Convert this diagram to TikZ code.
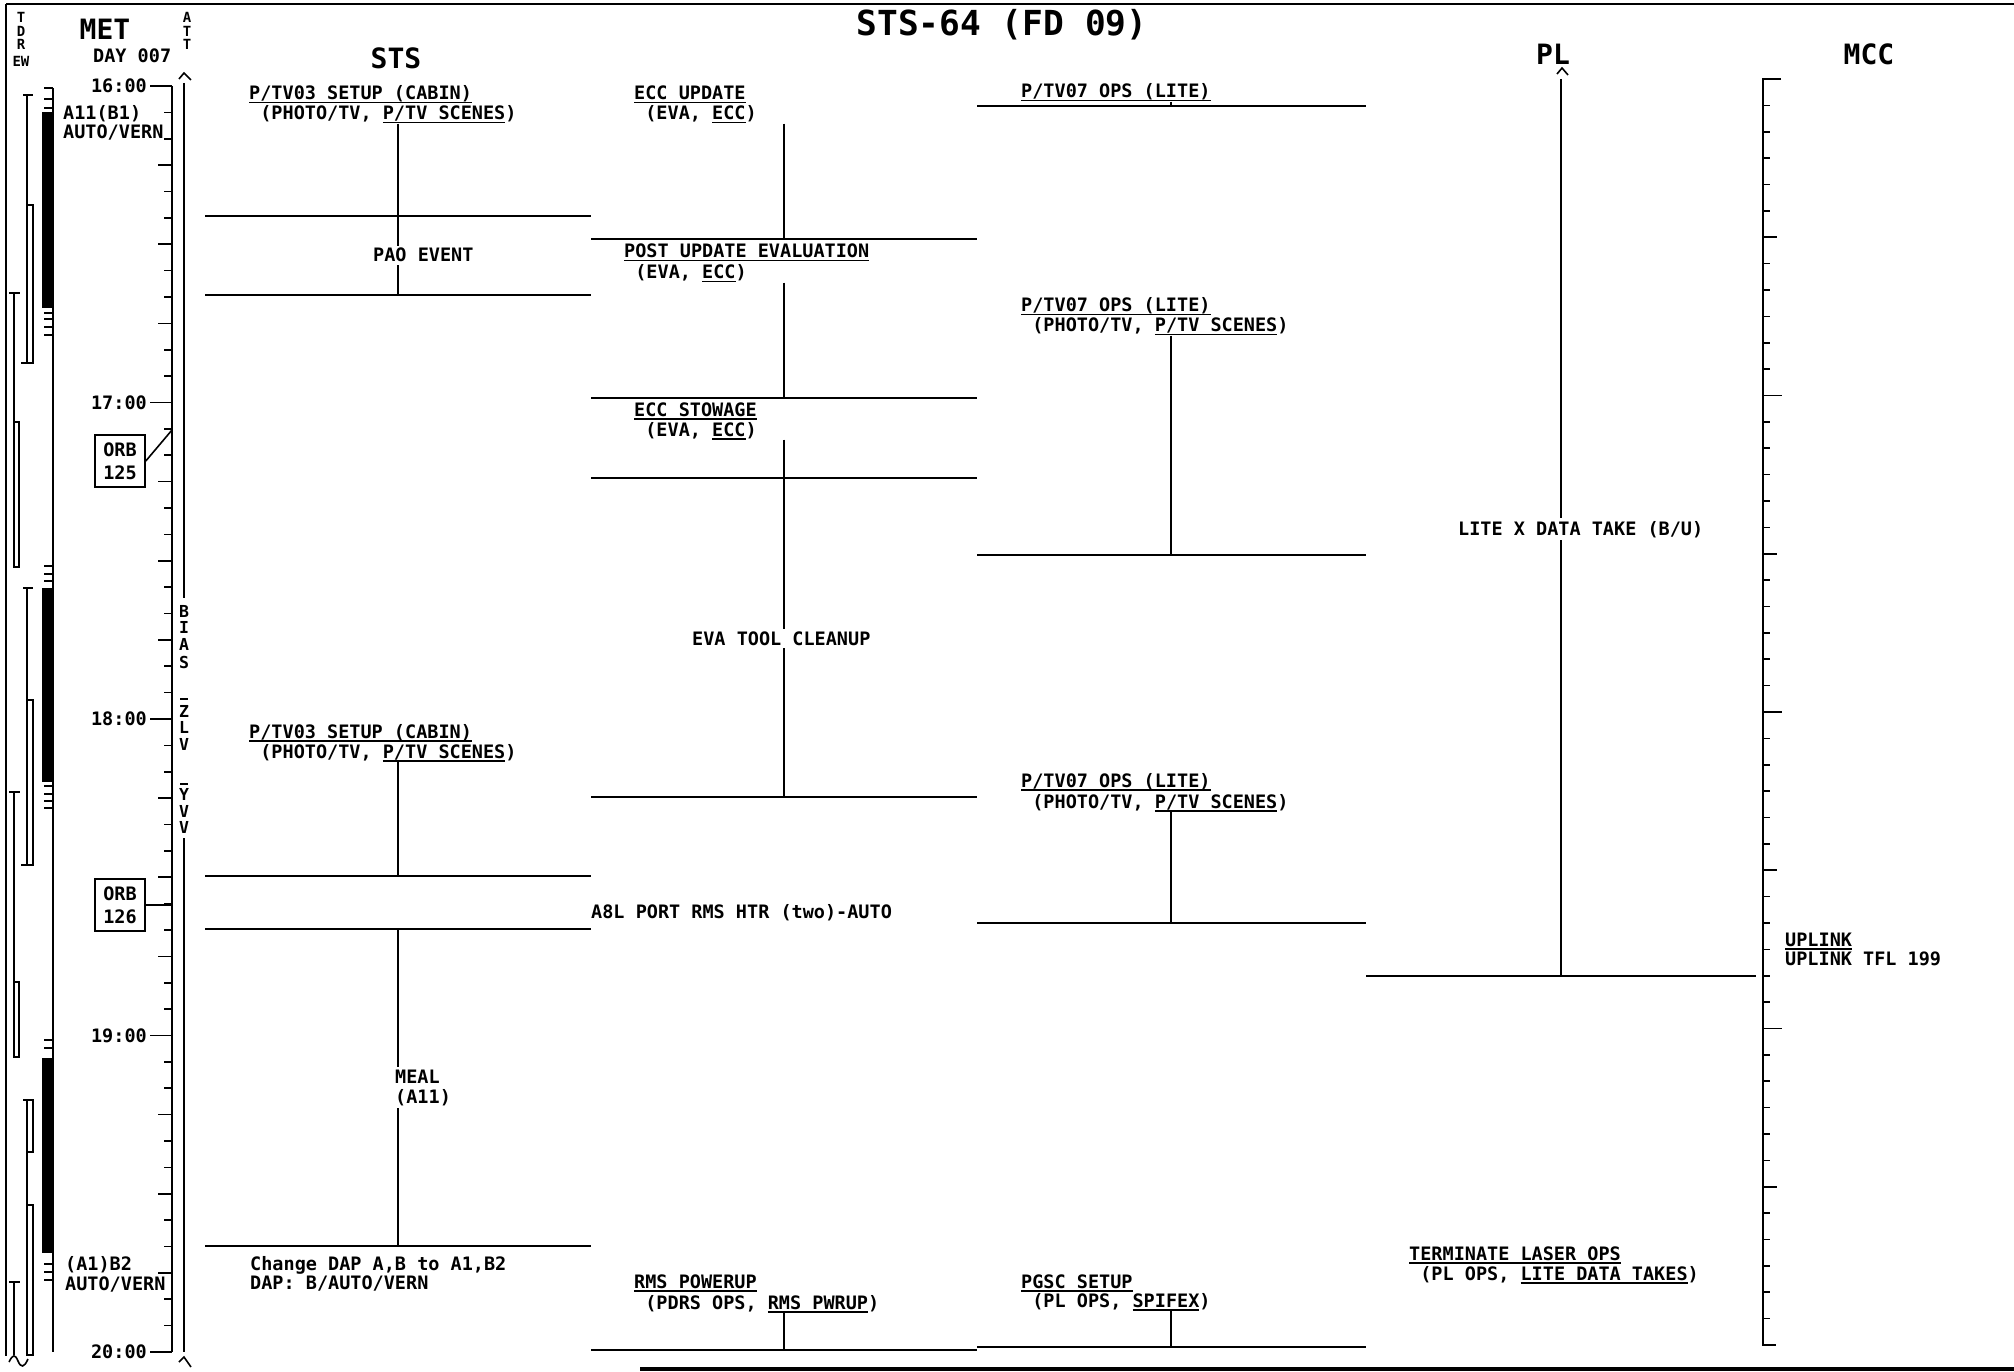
\documentclass[tikz,border=0pt]{standalone}
\usepackage{fontspec}
\newfontfamily\plotfont{DejaVu Sans Mono}
\newcommand{\fBody}{\plotfont\bfseries\frenchspacing\fontsize{18.5}{20}\selectfont}
\newcommand{\fHead}{\plotfont\bfseries\fontsize{28}{30}\selectfont}
\newcommand{\fTitle}{\plotfont\bfseries\fontsize{34.5}{36}\selectfont}
\newcommand{\fSmall}{\plotfont\bfseries\fontsize{14}{15}\selectfont}
\newcommand{\fAtt}{\plotfont\bfseries\fontsize{16.5}{17}\selectfont}
\newsavebox{\ulbox}
\newcommand{\ulx}[1]{\sbox\ulbox{#1}\rlap{\rule[-3.5pt]{\wd\ulbox}{1.5pt}}\usebox\ulbox}

\begin{document}
\begin{tikzpicture}[x=1pt, y=-1pt,
	rl/.style={line width=2pt}, tk/.style={line width=1.6pt},
	txt/.style={anchor=base west, inner sep=0pt, font=\fBody},
	gaptxt/.style={txt, fill=white, inner xsep=1pt, inner ysep=2.5pt},
	hd/.style={anchor=base, inner sep=0pt, font=\fHead},
	sm/.style={anchor=base, inner sep=0pt, font=\fSmall},
	orb/.style={draw, line width=1.6pt, align=center, minimum width=50pt, minimum height=52pt, inner sep=0pt, font=\fBody}]
	\useasboundingbox (0,0) rectangle (2014,1372);
	\fill[white] (0,0) rectangle (2014,1372);
	\draw[line width=2.5pt] (6,4) -- (2014,4);
	\draw[rl] (6,4) -- (6,1356);
	\draw[line width=4pt] (640,1369) -- (2014,1369);

	\node[anchor=base, inner sep=0pt, font=\fTitle] (title) at (1002,36) {STS-64 (FD 09)};
	\node[hd] (met) at (105,40) {MET};
	\node[txt] (day) at (93,63) {DAY 007};
	\node[hd] (sts) at (396,69) {STS};
	\node[hd] (pl) at (1553,65) {PL};
	\node[hd] (mcc) at (1869,65) {MCC};
	\foreach \c/\y [count=\i] in {T/23, D/37, R/50, EW/67} \node[sm] (tdrs\i) at (21,\y) {\c};
	\foreach \c/\y [count=\i] in {A/23, T/37, T/50} \node[sm] (att\i) at (187,\y) {\c};

	% TDRS and daylight bars
	\draw[tk] (9,293) -- (20,293) (14,293) -- (14,422) (14,422) rectangle (19,567);
	\draw[tk] (9,792) -- (20,792) (14,792) -- (14,982) (14,982) rectangle (19,1057);
	\draw[tk] (9,1282) -- (20,1282) (14,1282) -- (14,1355);
	\draw[tk] (9,1362) .. controls (13,1354) and (15,1354) .. (18,1361) .. controls (21,1368) and (24,1368) .. (28,1359);
	\draw[tk] (23,95) -- (33,95) (27,95) -- (27,205) (27,205) rectangle (33,363) (21,363) -- (27,363);
	\draw[tk] (23,588) -- (33,588) (27,588) -- (27,700) (27,700) rectangle (33,865) (21,865) -- (27,865);
	\draw[tk] (23,1100) -- (33,1100) (27,1100) rectangle (33,1152) (27,1152) -- (27,1205) (27,1205) rectangle (33,1355);
	\draw[tk] (53,88) -- (53,1352);
	\foreach \a/\b in {112/308, 588/782, 1058/1253} \fill (42,\a) rectangle (53,\b);
	\foreach \y in {88,99,108,313,319,327,335,566,574,581,786,794,801,808,1040,1048,1264,1272,1280} \draw[tk] (44,\y) -- (53,\y);

	% MET axis
	\draw[rl] (172,86) -- (172,1352);
	\foreach \m in {0,5,...,240} \draw[tk] (164,{86+5.275*\m}) -- (172,{86+5.275*\m});
	\foreach \m in {15,30,...,225} \draw[tk] (158,{86+5.275*\m}) -- (172,{86+5.275*\m});
	\foreach \h [count=\i from 0] in {16,...,20} {
		\draw[tk] (150,{86+316.5*\i}) -- (172,{86+316.5*\i});
		\node[txt, anchor=east] (hr\h) at (147,{86+316.5*\i}) {\h:00};
	}
	\node[txt] (dapA1) at (63,120) {A11(B1)};
	\node[txt] (dapA2) at (63,139) {AUTO/VERN};
	\node[txt] (dapB1) at (65,1270) {(A1)B2};
	\node[txt] (dapB2) at (65,1290) {AUTO/VERN};
	\node[orb] (orb125) at (120,461) {ORB\\[3pt]125};
	\node[orb] (orb126) at (120,905) {ORB\\[3pt]126};
	\coordinate (t125) at (172,430);
	\coordinate (t126) at (172,905);
	\draw[tk] (orb125.east) -- (t125);
	\draw[tk] (orb126.east) -- (t126);

	% ATT
	\draw[rl] (184,83) -- (184,598) (184,838) -- (184,1352);
	\draw[tk] (179,79) -- (184,73) -- (191,80);
	\draw[tk] (179,1362) -- (184,1357) -- (191,1367);
	\foreach \c/\y [count=\i] in {B/617,I/633,A/650,S/668,Z/717,L/733,V/750,Y/800,V/817,V/833} \node[anchor=base, inner sep=0pt, font=\fAtt] (bias\i) at (184,\y) {\c};
	\draw[tk] (180,699) -- (188,699) (180,784) -- (188,784);

	% STS
	\node[txt] (sA1) at (249,100) {\ulx{P/TV03 SETUP (CABIN)}};
	\node[txt] (sA2) at (249,120) {~(PHOTO/TV, \ulx{P/TV SCENES})};
	\node[txt] (sC1) at (249,738) {\ulx{P/TV03 SETUP (CABIN)}};
	\node[txt] (sC2) at (249,758) {~(PHOTO/TV, \ulx{P/TV SCENES})};
	\node[txt] (sD) at (591,918) {A8L PORT RMS HTR (two)-AUTO};
	\node[txt] (sF1) at (250,1270) {Change DAP A,B to A1,B2};
	\node[txt] (sF2) at (250,1289) {DAP: B/AUTO/VERN};
	\foreach \y [count=\i] in {216,295,876,929,1246} {
		\coordinate (s\i) at (398,\y);
		\draw[rl] (s\i) ++(-193,0) -- ++(386,0);
	}
	\draw[rl] (sA2.south -| s1) -- (s2);
	\draw[rl] (sC2.south -| s1) -- (s3);
	\draw[rl] (s4) -- (s5);

	% EVA
	\node[txt] (eA1) at (634,100) {\ulx{ECC UPDATE}};
	\node[txt] (eA2) at (634,120) {~(EVA, \ulx{ECC})};
	\node[txt] (eB1) at (624,258) {\ulx{POST UPDATE EVALUATION}};
	\node[txt] (eB2) at (624,279) {~(EVA, \ulx{ECC})};
	\node[txt] (eC1) at (634,416) {\ulx{ECC STOWAGE}};
	\node[txt] (eC2) at (634,436) {~(EVA, \ulx{ECC})};
	\node[txt] (eE1) at (634,1288) {\ulx{RMS POWERUP}};
	\node[txt] (eE2) at (634,1309) {~(PDRS OPS, \ulx{RMS PWRUP})};
	\foreach \y [count=\i] in {239,398,478,797,1350} {
		\coordinate (e\i) at (784,\y);
		\draw[rl] (e\i) ++(-193,0) -- ++(386,0);
	}
	\draw[rl] (eA2.south -| e1) -- (e1);
	\draw[rl] (eB2.south -| e1) -- (e2);
	\draw[rl] (eC2.south -| e1) -- (e4);
	\draw[rl] (eE2.south -| e1) -- (e5);

	% P/TV
	\node[txt] (pA) at (1021,98) {\ulx{P/TV07 OPS (LITE)}};
	\node[txt] (pB1) at (1021,312) {\ulx{P/TV07 OPS (LITE)}};
	\node[txt] (pB2) at (1021,332) {~(PHOTO/TV, \ulx{P/TV SCENES})};
	\node[txt] (pC1) at (1021,787) {\ulx{P/TV07 OPS (LITE)}};
	\node[txt] (pC2) at (1021,808) {~(PHOTO/TV, \ulx{P/TV SCENES})};
	\node[txt] (pD1) at (1021,1288) {\ulx{PGSC SETUP}};
	\node[txt] (pD2) at (1021,1307) {~(PL OPS, \ulx{SPIFEX})};
	\foreach \y [count=\i] in {106,555,923,1347} {
		\coordinate (p\i) at (1171,\y);
		\draw[rl] (p\i) ++(-194,0) -- ++(389,0);
	}
	\draw[rl] (pA.south -| p1) -- (p1);
	\draw[rl] (pB2.south -| p1) -- (p2);
	\draw[rl] (pC2.south -| p1) -- (p3);
	\draw[rl] (pD2.south -| p1) -- (p4);

	% PL
	\coordinate (plTop) at (1561,79);
	\coordinate (l1) at (1561,976);
	\draw[tk] (1557,74) -- (1562,68) -- (1568,75);
	\draw[rl] (plTop) -- (l1);
	\draw[rl] (l1) ++(-195,0) -- ++(390,0);
	\node[txt] (lB1) at (1409,1260) {\ulx{TERMINATE LASER OPS}};
	\node[txt] (lB2) at (1409,1280) {~(PL OPS, \ulx{LITE DATA TAKES})};

	% MCC
	\coordinate (mccTop) at (1763,79);
	\coordinate (mccBot) at (1763,1345);
	\draw[rl] (mccTop) ++(18,0) -- (mccTop) -- (mccBot) -- ++(13,0);
	\foreach \m in {5,10,...,235} \draw[tk] (1763,{79+5.275*\m}) -- ++(7,0);
	\foreach \m in {30,90,150,210} \draw[tk] (1763,{79+5.275*\m}) -- ++(14,0);
	\foreach \m in {60,120,180} \draw[tk] (1763,{79+5.275*\m}) -- ++(19,0);
	\node[txt] (mA1) at (1785,946) {\ulx{UPLINK}};
	\node[txt] (mA2) at (1785,965) {UPLINK TFL 199};

	% labels over the lines
	\node[gaptxt] (sB) at (372,262) {PAO EVENT};
	\node[gaptxt] (sE1) at (394,1083) {MEAL};
	\node[gaptxt] (sE2) at (394,1103) {(A11)};
	\node[gaptxt] (eD) at (691,645) {EVA TOOL CLEANUP};
	\node[gaptxt] (lA) at (1457,535) {LITE X DATA TAKE (B/U)};
\end{tikzpicture}
\end{document}
